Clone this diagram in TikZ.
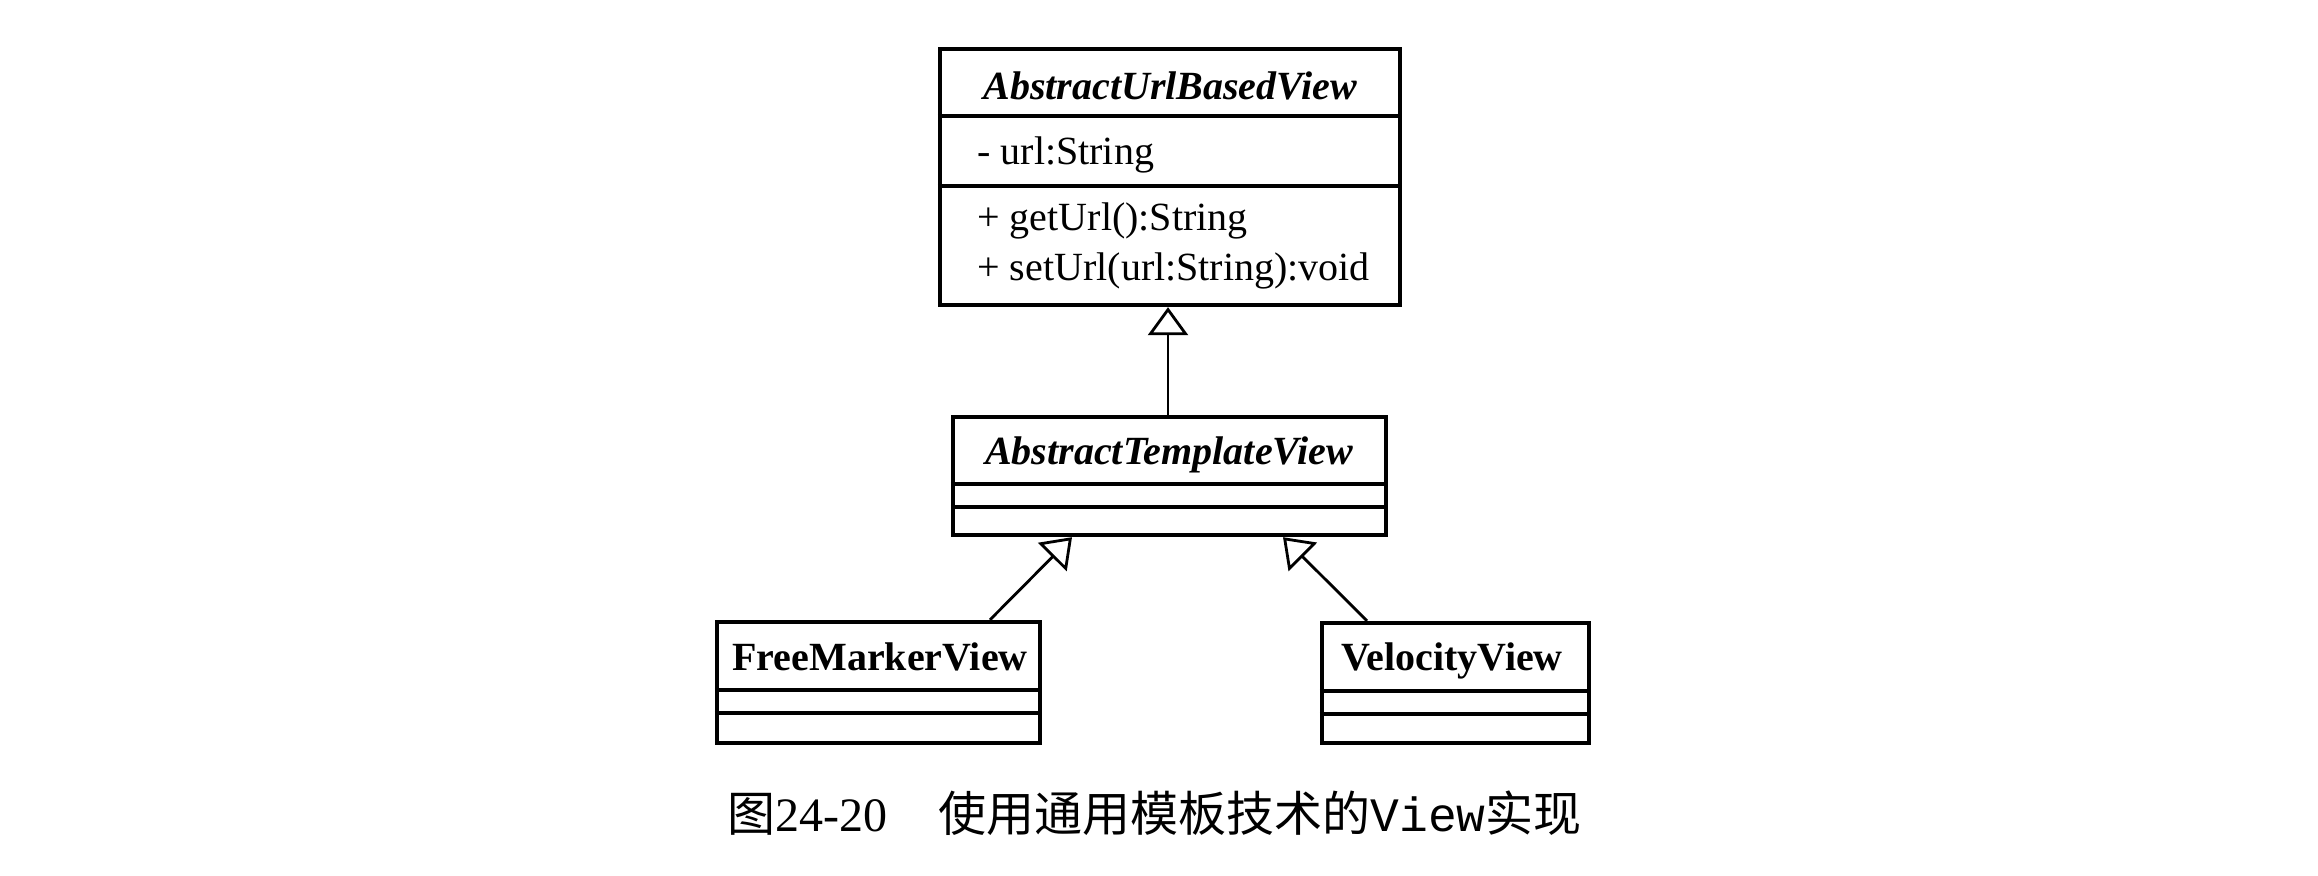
\documentclass[tikz,border=0pt]{standalone}
\usepackage{fontspec}
\setmainfont{Liberation Serif}
\setmonofont{Liberation Mono}
\newfontfamily\cjk{Noto Sans CJK SC}
\usetikzlibrary{arrows.meta,fit}
\begin{document}
\begin{tikzpicture}[x=0.5pt,y=-0.5pt,
  box/.style={draw, line width=2.2pt, inner sep=0pt},
  sep/.style={line width=1.6pt},
  inh/.style={line width=1.4pt, -{Triangle[open,length=14pt,width=20pt,fill=white]}},
  atitle/.style={font=\fontsize{20}{24}\selectfont\bfseries\itshape, anchor=base, inner sep=0pt},
  ctitle/.style={font=\fontsize{20}{24}\selectfont\bfseries, anchor=base, inner sep=0pt},
  member/.style={font=\fontsize{20}{24}\selectfont, anchor=base west, inner sep=0pt},
  captxt/.style={font=\fontsize{24}{28}\selectfont, anchor=base west, inner sep=0pt}]
\useasboundingbox (0,0) rectangle (2318,876);
\fill[white] (0,0) rectangle (2318,876);

% AbstractUrlBasedView
\node[box, fit={(940,49) (1400,305)}] (aubv) {};
\draw[sep] (aubv.west |- 0,116) -- (aubv.east |- 0,116);
\draw[sep] (aubv.west |- 0,186) -- (aubv.east |- 0,186);
\node[atitle] (aubvname) at (1170,100) {AbstractUrlBasedView};
\node[member] (aubva1) at (977,165) {- url:String};
\node[member] (aubvm1) at (977,231) {+ getUrl():String};
\node[member] (aubvm2) at (977,281) {+ setUrl(url:String):void};

% AbstractTemplateView
\node[box, fit={(953,417) (1386,535)}] (atv) {};
\draw[sep] (atv.west |- 0,484) -- (atv.east |- 0,484);
\draw[sep] (atv.west |- 0,507) -- (atv.east |- 0,507);
\node[atitle] (atvname) at (1169,465) {AbstractTemplateView};

% FreeMarkerView
\node[box, fit={(717,622) (1040,743)}] (fm) {};
\draw[sep] (fm.west |- 0,690) -- (fm.east |- 0,690);
\draw[sep] (fm.west |- 0,713) -- (fm.east |- 0,713);
\node[ctitle] (fmname) at (880,670) {FreeMarkerView};

% VelocityView
\node[box, fit={(1322,623) (1589,743)}] (vv) {};
\draw[sep] (vv.west |- 0,691) -- (vv.east |- 0,691);
\draw[sep] (vv.west |- 0,714) -- (vv.east |- 0,714);
\node[ctitle] (vvname) at (1452,670) {VelocityView};

% inheritance connectors
\draw[inh] (atv.north -| 1168,0) -- (aubv.south -| 1168,0);
\coordinate (fmstart) at (fm.north -| 990,0);
\coordinate (fmend) at (atv.south -| 1072,0);
\draw[inh] (fmstart) -- (fmend);
\coordinate (vvstart) at (vv.north -| 1367,0);
\coordinate (vvend) at (atv.south -| 1283,0);
\draw[inh] (vvstart) -- (vvend);

% caption
\node[captxt] (cap1) at (727,831) {{\cjk 图}24-20};
\node[captxt] (cap2) at (938,831) {{\cjk 使用通用模板技术的}\texttt{View}{\cjk 实现}};
\end{tikzpicture}
\end{document}
